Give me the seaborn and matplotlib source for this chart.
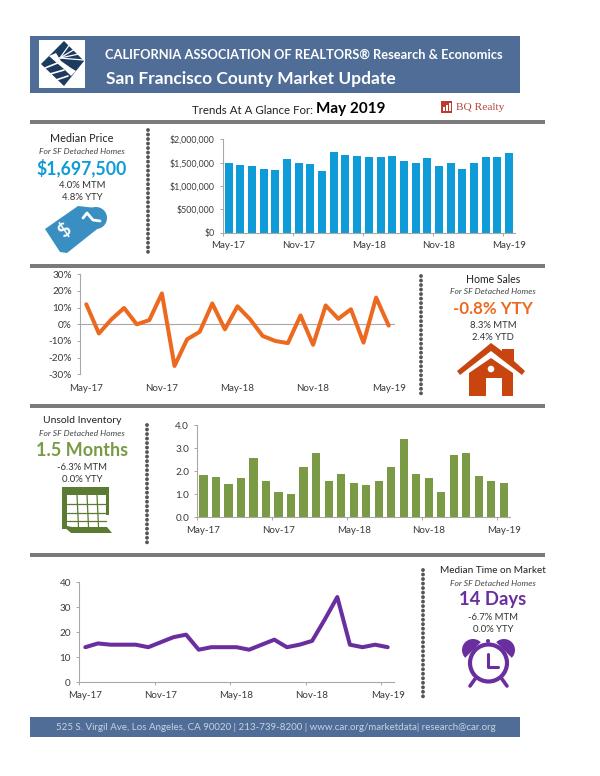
import pandas as pd
import matplotlib
matplotlib.use("Agg")
import matplotlib.pyplot as plt
import seaborn as sns
from matplotlib.patches import Rectangle, Polygon, Circle, Wedge
from matplotlib.lines import Line2D

# monthly values
months = ["May-17", "Jun-17", "Jul-17", "Aug-17", "Sep-17", "Oct-17", "Nov-17", "Dec-17", "Jan-18",
          "Feb-18", "Mar-18", "Apr-18", "May-18", "Jun-18", "Jul-18", "Aug-18", "Sep-18", "Oct-18",
          "Nov-18", "Dec-18", "Jan-19", "Feb-19", "Mar-19", "Apr-19", "May-19"]
median_price = [1500000, 1460000, 1420000, 1370000, 1340000, 1585000, 1490000, 1470000, 1320000,
                1730000, 1670000, 1640000, 1615000, 1615000, 1640000, 1540000, 1500000, 1590000,
                1435000, 1490000, 1365000, 1500000, 1630000, 1625000, 1697500]
home_sales = [12, -5.5, 3, 9.8, 0, 2.5, 18.5, -25, -9, -4.5, 12.5, -3, 10.8, 3, -7, -10, -11.3,
              5.3, -12.3, 11.3, 3.3, 9, -11, 16, -0.8]
inventory = [1.85, 1.75, 1.45, 1.7, 2.6, 1.6, 1.1, 1.0, 2.2, 2.8, 1.6, 1.9, 1.5, 1.42, 1.58, 2.2,
             3.4, 1.9, 1.7, 1.1, 2.7, 2.8, 1.8, 1.6, 1.5]
time_on_market = [14, 15.5, 15, 15, 15, 14, 16, 18, 19, 13, 14, 14, 14, 13, 15, 17, 14, 15, 16.5,
                  25, 34, 15, 14, 15, 14]

shown_months = months[::6]
price_ticks = [0, 500000, 1000000, 1500000, 2000000]
price_labels = ["$0", "$500,000", "$1,000,000", "$1,500,000", "$2,000,000"]
sales_ticks = [-30, -20, -10, 0, 10, 20, 30]
sales_labels = ["-30%", "-20%", "-10%", "0%", "10%", "20%", "30%"]
inventory_ticks = [0, 1, 2, 3, 4]
inventory_labels = ["0.0", "1.0", "2.0", "3.0", "4.0"]
time_ticks = [0, 10, 20, 30, 40]

BLUE = "#0f9bd7"
ORANGE = "#ec6a1f"
GREEN = "#7a9a46"
PURPLE = "#6a2f9e"
TXT = "#3a3a3a"
HEADER = "#4f6d96"

sns.set_theme(style="white")
plt.rcParams["font.family"] = ["Lato", "DejaVu Sans"]

W, H = 600, 776
fig = plt.figure(figsize=(6, 7.76), dpi=100, facecolor="white")

# full page axes in pixel coordinates for the furniture
page = fig.add_axes([0, 0, 1, 1], zorder=0)
page.set_xlim(0, W)
page.set_ylim(H, 0)
page.axis("off")


def chart_axes(left, top, right, bottom):
    return fig.add_axes([left / W, 1 - bottom / H, (right - left) / W, (bottom - top) / H], zorder=2,
                        facecolor="none")


def style_axes(ax, ticks, labels, low, high, ysize=7.2):
    ax.set_ylim(low, high)
    ax.set_xlim(-0.5, 24.5)
    ax.set_yticks(ticks)
    ax.set_yticklabels(labels)
    ax.set_xticks(range(0, 25, 6))
    ax.set_xticklabels(shown_months)
    ax.set_xticks([i - 0.5 for i in range(0, 25, 6)], minor=True)
    ax.set_xlabel("")
    ax.set_ylabel("")
    sns.despine(ax=ax)
    for s in ["left", "bottom"]:
        ax.spines[s].set_color("#a8a8a8")
        ax.spines[s].set_linewidth(0.8)
    ax.tick_params(axis="y", length=2.5, width=0.7, color="#a8a8a8", labelsize=ysize, labelcolor=TXT, pad=3.3, left=True)
    ax.tick_params(axis="x", which="major", length=0, labelsize=7.0, labelcolor=TXT, pad=6)
    ax.tick_params(axis="x", which="minor", length=2.5, width=0.7, color="#a8a8a8", bottom=True)


df = pd.DataFrame({"month": months, "price": median_price, "sales": home_sales,
                   "inventory": inventory, "days": time_on_market})

ax1 = chart_axes(222.7, 139.3, 515, 232.7)
sns.barplot(data=df, x="month", y="price", color=BLUE, saturation=1, width=0.68, linewidth=0, ax=ax1)
style_axes(ax1, price_ticks, price_labels, 0, 2000000, ysize=6.3)

ax2 = chart_axes(80, 274.3, 395, 374.3)
sns.lineplot(data=df, x="month", y="sales", color=ORANGE, linewidth=2.9, sort=False, ax=ax2)
style_axes(ax2, sales_ticks, sales_labels, -30, 30)
ax2.spines["bottom"].set_visible(False)
ax2.axhline(0, color="#a8a8a8", lw=0.8, zorder=0)
ax2.tick_params(axis="x", which="minor", length=0)
ax2.tick_params(axis="x", which="major", pad=7)

ax3 = chart_axes(197.3, 425.3, 510, 517.3)
sns.barplot(data=df, x="month", y="inventory", color=GREEN, saturation=1, width=0.66, linewidth=0, ax=ax3)
style_axes(ax3, inventory_ticks, inventory_labels, 0, 4)

ax4 = chart_axes(79, 582, 394, 682.3)
sns.lineplot(data=df, x="month", y="days", color=PURPLE, linewidth=2.9, sort=False, ax=ax4)
style_axes(ax4, time_ticks, [str(t) for t in time_ticks], 0, 40)

# header and footer
page.add_patch(Rectangle((30, 36), 490, 57, color=HEADER, lw=0))
page.add_patch(Rectangle((30, 717), 490, 20, color=HEADER, lw=0))
page.add_patch(Rectangle((39, 40), 46, 48, color="white", lw=0))

# logo
NAVY = "#1d3a5f"
page.add_patch(Polygon([(41, 64), (64, 41), (84, 61), (64, 86)], color=NAVY, lw=0))
for end in [(70, 44), (75, 49), (79, 54), (83, 60)]:
    page.add_line(Line2D([60, end[0]], [58, end[1]], color="white", lw=0.9))
page.add_patch(Polygon([(49, 56), (56, 53), (61, 61), (71, 68), (76, 71), (71, 76), (64, 69), (58, 64)],
                       color="white", lw=0))
for a, b in [((45, 68), (60, 62)), ((50, 74), (64, 70)), ((56, 80), (68, 76))]:
    page.add_line(Line2D([a[0], b[0]], [a[1], b[1]], color="white", lw=1.2))

page.text(105, 55, "CALIFORNIA ASSOCIATION OF REALTORS® Research & Economics", color="white",
          fontsize=9.3, fontweight="bold", va="center")
page.text(106, 79, "San Francisco County Market Update", color="white", fontsize=12.5,
          fontweight="bold", va="center")
page.text(276, 727, "525 S. Virgil Ave, Los Angeles, CA 90020 | 213-739-8200 | www.car.org/marketdata| research@car.org",
          color="#c8d3e2", fontsize=7.05, va="center", ha="center")

page.text(192, 110, "Trends At A Glance For:", color="#222222", fontsize=8.3, va="center")
page.text(316, 109, "May 2019", color="black", fontsize=11, fontweight="bold", va="center")

# BQ Realty mark
page.add_patch(Rectangle((441, 101), 11, 12, color="#c0392f", lw=0))
for x, top in [(443, 107), (446, 105), (449, 103)]:
    page.add_patch(Rectangle((x, top), 2, 111 - top, color="white", lw=0))
page.text(456, 108, "BQ Realty", color="#b5423c", fontsize=8.2, family="Liberation Serif", va="center")

# gray rules
for y in [120, 264, 404, 553]:
    page.add_patch(Rectangle((30, y), 515, 4, color="#7a7a7a", lw=0))

# dotted separators
for x, y0, y1 in [(148, 130, 254), (421, 276, 397), (147, 425, 543), (423, 570, 697)]:
    page.add_line(Line2D([x, x], [y0, y1], color="#555555", lw=2.8, dash_capstyle="round",
                         linestyle=(0, (0.01, 1.15))))


def panel(cx, y0, title, big, colour, line1, line2, titlesize, bigsize):
    page.text(cx, y0 + 0.5, title, color="#222222", fontsize=titlesize, ha="center", va="center")
    page.text(cx, y0 + 13, "For SF Detached Homes", color="#444444", fontsize=6.1, style="italic",
              ha="center", va="center")
    page.text(cx, y0 + 30, big, color=colour, fontsize=bigsize, fontweight="bold", ha="center", va="center")
    page.text(cx, y0 + 47, line1, color="#333333", fontsize=6.8, ha="center", va="center")
    page.text(cx, y0 + 59, line2, color="#333333", fontsize=6.8, ha="center", va="center")


panel(82, 138, "Median Price", "$1,697,500", BLUE, "4.0% MTM", "4.8% YTY", 7.8, 12.7)
panel(493, 279, "Home Sales", "-0.8% YTY", ORANGE, "8.3% MTM", "2.4% YTD", 7.6, 12.2)
panel(82, 420, "Unsold Inventory", "1.5 Months", GREEN, "-6.3% MTM", "0.0% YTY", 7.5, 13)
panel(493, 570, "Median Time on Market", "14 Days", PURPLE, "-6.7% MTM", "0.0% YTY", 7.2, 13.3)

# price tag icon
TAG = "#3a8fc2"
page.add_patch(Polygon([(45, 229), (78, 206), (96, 208), (106, 222), (67, 253), (60, 252)], color=TAG, lw=0))
page.add_patch(Circle((96, 218), 11, color=TAG, lw=0))
page.add_line(Line2D([83, 87, 93, 100], [218, 213, 220, 221], color="white", lw=2.0))
page.text(64, 230, "$", color="white", fontsize=14, fontweight="bold", rotation=40, ha="center", va="center")

# house icon
HOUSE = "#c8450f"
page.add_patch(Polygon([(457, 371), (491, 343), (502, 351), (502, 349), (514, 349), (514, 361), (525, 371),
                        (522, 375), (491, 351), (460, 375)], color=HOUSE, lw=0))
page.add_patch(Polygon([(469, 396), (469, 373), (491, 358), (513, 373), (513, 396), (502, 396), (502, 378),
                        (486, 378), (486, 396)], color=HOUSE, lw=0))
page.add_patch(Circle((491, 369), 3.3, color="white", lw=0))

# calendar icon
CAL = "#5b7a32"
page.add_patch(Rectangle((62, 487), 47, 8, color=CAL, lw=0))
page.add_patch(Rectangle((62, 487), 5, 42, color=CAL, lw=0))
page.add_patch(Rectangle((106, 487), 3, 28, color=CAL, lw=0))
page.add_patch(Polygon([(62, 525), (71, 533), (112, 533), (107, 527), (72, 527)], color=CAL, lw=0))
for x in [77, 87, 97]:
    page.add_line(Line2D([x, x + 1.5], [495, 527], color=CAL, lw=0.9))
for y in [504, 513, 521]:
    page.add_line(Line2D([67, 106], [y, y], color=CAL, lw=0.9))

# alarm clock icon
page.add_patch(Wedge((473, 650), 11, 135, 315, color=PURPLE, lw=0))
page.add_patch(Wedge((504, 650), 11, 225, 45, color=PURPLE, lw=0))
page.add_patch(Circle((488.5, 663), 18.5, facecolor="white", edgecolor=PURPLE, lw=3.0))
page.add_patch(Circle((488, 641), 2, color=PURPLE, lw=0))
page.add_line(Line2D([488, 488, 498], [654, 667, 667], color=PURPLE, lw=2.2))
page.add_line(Line2D([475, 470], [679, 686], color=PURPLE, lw=2.6))
page.add_line(Line2D([502, 507], [679, 686], color=PURPLE, lw=2.6))

fig.savefig("out.png", dpi=100)
